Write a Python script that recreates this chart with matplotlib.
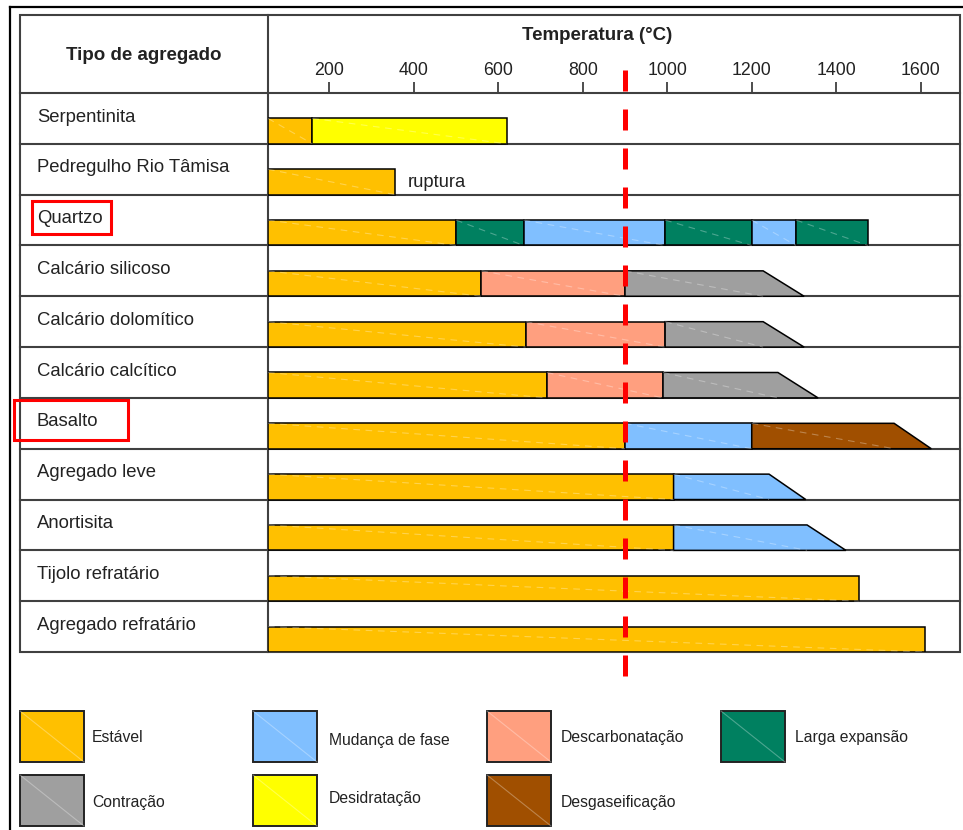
import matplotlib
matplotlib.use('Agg')
import matplotlib.pyplot as plt
from matplotlib.patches import Polygon, Rectangle

plt.rcParams['font.family'] = ['Liberation Sans', 'DejaVu Sans']

W, H = 963, 830
TEXT = '#222222'
GRID = '#404040'

# fases e cores
phases = ['Estável', 'Mudança de fase', 'Descarbonatação', 'Larga expansão',
          'Contração', 'Desidratação', 'Desgaseificação']
phase_colors = ['#FFC000', '#80BFFF', '#FF9F7F', '#008060',
                '#9F9F9F', '#FFFF00', '#A04F00']
colors = dict(zip(phases, phase_colors))

rows = ['Serpentinita', 'Pedregulho Rio Tâmisa', 'Quartzo', 'Calcário silicoso',
        'Calcário dolomítico', 'Calcário calcítico', 'Basalto', 'Agregado leve',
        'Anortisita', 'Tijolo refratário', 'Agregado refratário']

# (fase, temperatura final) por agregado
serpentinita = [('Estável', 160), ('Desidratação', 620)]
pedregulho = [('Estável', 355)]
quartzo = [('Estável', 500), ('Larga expansão', 660), ('Mudança de fase', 995),
           ('Larga expansão', 1200), ('Mudança de fase', 1305), ('Larga expansão', 1475)]
calc_silicoso = [('Estável', 560), ('Descarbonatação', 900), ('Contração', 1227)]
calc_dolomitico = [('Estável', 665), ('Descarbonatação', 995), ('Contração', 1227)]
calc_calcitico = [('Estável', 715), ('Descarbonatação', 990), ('Contração', 1262)]
basalto = [('Estável', 900), ('Mudança de fase', 1200), ('Desgaseificação', 1537)]
agregado_leve = [('Estável', 1015), ('Mudança de fase', 1241)]
anortisita = [('Estável', 1015), ('Mudança de fase', 1331)]
tijolo = [('Estável', 1455)]
agregado_refr = [('Estável', 1611)]
segments = [serpentinita, pedregulho, quartzo, calc_silicoso, calc_dolomitico,
            calc_calcitico, basalto, agregado_leve, anortisita, tijolo, agregado_refr]

# fim inclinado (base do trapezio) quando existe
slant_end = [None, None, None, 1324, 1324, 1357, 1625, 1328, 1423, None, None]

T0, T1 = 55, 1693
ticks = [200, 400, 600, 800, 1000, 1200, 1400, 1600]
limite = 900

# geometria da tabela (pixels)
tab_l, tab_r, tab_t, tab_b = 20, 960, 15, 652
col_x, head_b = 268, 93
row_h = (tab_b - head_b) / len(rows)

fig = plt.figure(figsize=(W / 100, H / 100), dpi=100)
bg = fig.add_axes([0, 0, 1, 1])
bg.set_xlim(0, W)
bg.set_ylim(H, 0)
bg.axis('off')

# moldura externa
bg.plot([10, W, W], [7, 7, 7], color='black', lw=1.6)
bg.plot([10, 10], [7, H], color='black', lw=1.6)

# tabela
bg.add_patch(Rectangle((tab_l, tab_t), tab_r - tab_l, tab_b - tab_t,
                       fill=False, ec=GRID, lw=1.5))
bg.plot([col_x, col_x], [tab_t, tab_b], color=GRID, lw=1.5)
bg.plot([tab_l, tab_r], [head_b, head_b], color=GRID, lw=1.5)
for i in range(1, len(rows)):
    y = head_b + i * row_h
    bg.plot([tab_l, tab_r], [y, y], color=GRID, lw=1.5)

bg.text((tab_l + col_x) / 2, 56, 'Tipo de agregado', ha='center', va='center',
        fontsize=13.5, fontweight='bold', color=TEXT)
bg.text(597, 36, 'Temperatura (°C)', ha='center', va='center',
        fontsize=13.5, fontweight='bold', color=TEXT)

for i, name in enumerate(rows):
    bg.text(37, head_b + i * row_h + 24, name, ha='left', va='center',
            fontsize=13.3, color=TEXT)

# destaques vermelhos
bg.add_patch(Rectangle((31.5, 200.5), 79, 33, fill=False, ec='#FF0000', lw=2.2))
bg.add_patch(Rectangle((14, 400), 114, 40, fill=False, ec='#FF0000', lw=2.2))

# area dos graficos
ax = fig.add_axes([col_x / W, 1 - tab_b / H, (tab_r - col_x) / W, (tab_b - head_b) / H])
ax.set_facecolor('none')
ax.set_xlim(T0, T1)
ax.set_ylim(len(rows), 0)
for s in ax.spines.values():
    s.set_visible(False)
ax.set_yticks([])
ax.xaxis.set_ticks_position('top')
ax.set_xticks(ticks)
ax.set_xticklabels([str(t) for t in ticks])
ax.tick_params(axis='x', direction='out', length=8, width=1.3, pad=1.8,
               labelsize=12.8, color=GRID, labelcolor=TEXT)

for i, segs in enumerate(segments):
    top, bot = i + 0.5, i + 1.0
    start = T0
    for k, (phase, end) in enumerate(segs):
        last = k == len(segs) - 1
        bend = slant_end[i] if (last and slant_end[i]) else end
        pts = [(start, top), (end, top), (bend, bot), (start, bot)]
        ax.add_patch(Polygon(pts, closed=True, fc=colors[phase], ec='black',
                             lw=1.1, zorder=3))
        ax.plot([start, end], [top, bot], color='white', alpha=0.3, lw=0.8,
                ls=(0, (6, 5)), zorder=4)
        start = end

ax.text(385, 1.77, 'ruptura', ha='left', va='center', fontsize=13.2, color=TEXT)

# linha limite 900 °C
ax.plot([limite, limite], [-0.45, 11.65], color='#FF0000', lw=3.6,
        ls=(0, (4.2, 3.6)), solid_capstyle='butt', dash_capstyle='butt',
        clip_on=False, zorder=6)

# legenda
leg_x = [20, 253, 487, 721, 20, 253, 487]
leg_y = [711, 711, 711, 711, 775, 775, 775]
leg_pad = [8, 12, 10, 10, 8, 12, 10]
leg_dy = [1, 4, 1, 1, 2, -2, 2]
for phase, x, y, p, dy in zip(phases, leg_x, leg_y, leg_pad, leg_dy):
    bg.add_patch(Rectangle((x, y), 64, 51, fc=colors[phase], ec='#222222', lw=1.4))
    bg.plot([x, x + 64], [y, y + 51], color='white', alpha=0.3, lw=0.8)
    bg.text(x + 64 + p, y + 25.5 + dy, phase, ha='left', va='center',
            fontsize=11.3, color=TEXT)

fig.savefig('out.png', dpi=100)
